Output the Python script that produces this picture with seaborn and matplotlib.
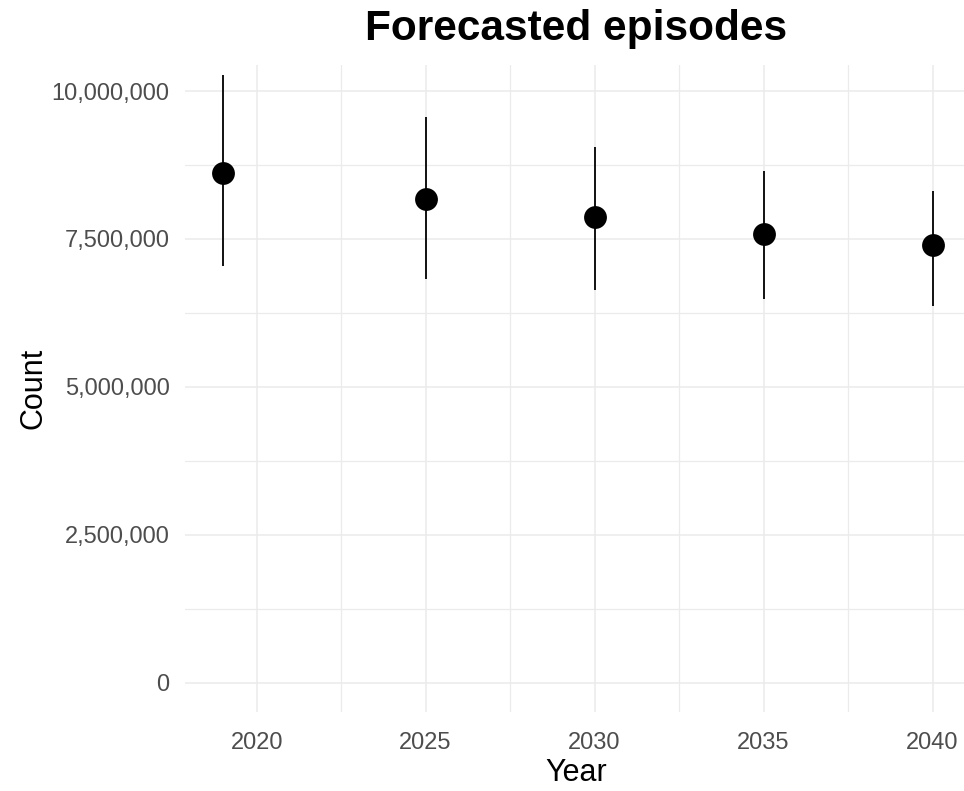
import matplotlib
matplotlib.use("Agg")
import matplotlib.pyplot as plt
from matplotlib.ticker import FuncFormatter, MultipleLocator
import seaborn as sns
import pandas as pd

# Forecast point estimates with lower/upper bounds
years = [2019, 2025, 2030, 2035, 2040]
estimate = [8610000, 8170000, 7870000, 7580000, 7390000]
lower = [7040000, 6820000, 6640000, 6480000, 6360000]
upper = [10270000, 9560000, 9060000, 8650000, 8310000]

x_ticks = [2020, 2025, 2030, 2035, 2040]
y_ticks = [0, 2500000, 5000000, 7500000, 10000000]

df = pd.DataFrame({"Year": years, "Count": estimate, "lo": lower, "hi": upper})

sns.set_theme(style="white")
plt.rcParams["font.family"] = ["Liberation Sans", "DejaVu Sans"]

W, H = 964, 791
fig = plt.figure(figsize=(W / 100, H / 100), dpi=100)
left, right, top, bottom = 185, 968, 65, 712
ax = fig.add_axes([left / W, 1 - bottom / H, (right - left) / W, (bottom - top) / H])

grid_col = "#EBEBEB"
ax.set_xlim(2017.88, 2041.05)
ax.set_ylim(-495000, 10440000)
ax.set_xticks(x_ticks)
ax.set_yticks(y_ticks)
ax.xaxis.set_minor_locator(MultipleLocator(2.5))
ax.yaxis.set_minor_locator(MultipleLocator(1250000))
ax.grid(which="major", color=grid_col, linewidth=1.1)
ax.grid(which="minor", color=grid_col, linewidth=0.9)
ax.set_axisbelow(True)
for s in ax.spines.values():
    s.set_visible(False)
ax.tick_params(which="both", length=0)
ax.tick_params(axis="y", labelsize=17, labelcolor="#4D4D4D", pad=11)
ax.tick_params(axis="x", labelsize=17, labelcolor="#4D4D4D", pad=14.5)
ax.yaxis.set_major_formatter(FuncFormatter(lambda v, p: f"{int(v):,}"))

# Interval lines, then the point estimates on top
ax.vlines(df["Year"], df["lo"], df["hi"], color="#111111", linewidth=1.4, zorder=2)
sns.scatterplot(data=df, x="Year", y="Count", ax=ax, s=270, color="black",
                edgecolor="black", linewidth=0, zorder=3)

ax.set_xlabel("Year", fontsize=22, color="black", labelpad=3)
ax.set_ylabel("Count", fontsize=22, color="black", labelpad=2)
fig.text((left + right) / 2 / W, 1 - 29 / H, "Forecasted episodes",
         ha="center", va="center", fontsize=30.5, fontweight="bold", color="black")

fig.savefig("out.png", dpi=100)
